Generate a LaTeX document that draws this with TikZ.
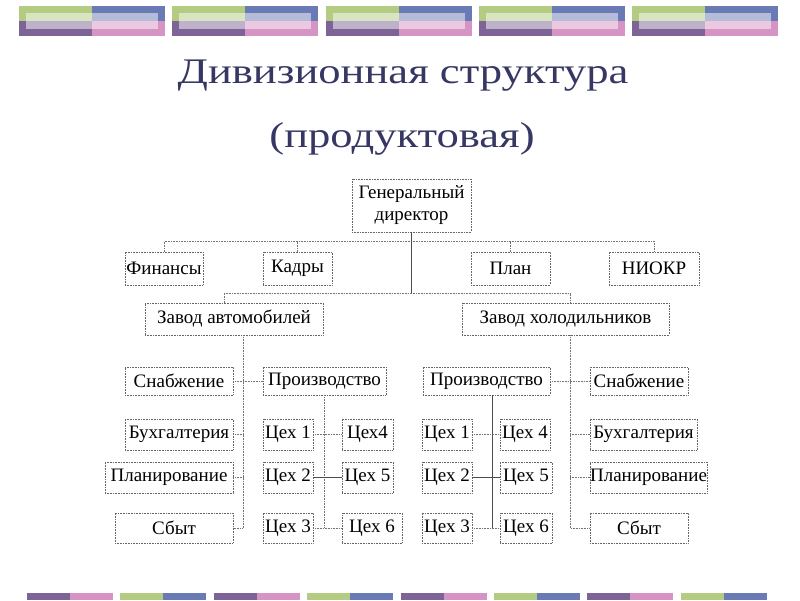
\documentclass[tikz,border=0pt]{standalone}
\usepackage{fontspec}
\setmainfont{Liberation Serif}
\usepackage{xcolor}
\usepackage{tikz}
\usetikzlibrary{positioning}

\definecolor{decgreen}{RGB}{180,204,130}
\definecolor{decblue}{RGB}{106,122,180}
\definecolor{decpurple}{RGB}{126,100,150}
\definecolor{decpink}{RGB}{214,148,196}
\definecolor{titlecol}{RGB}{55,55,100}

\tikzset{
  box/.style={draw=black!60, densely dotted, line width=0.6pt, inner sep=0pt,
    font=\fontsize{19}{22}\selectfont, minimum height=31pt},
  link/.style={draw=black!55, densely dotted, line width=0.6pt},
  solidlink/.style={draw=black!70, line width=0.6pt},
  heading/.style={anchor=base, text=titlecol, font=\fontsize{36}{40}\selectfont, xscale=1.24, transform shape},
}

\begin{document}
\begin{tikzpicture}[x=1pt, y=-1pt]
        \useasboundingbox[fill=white] (0,0) rectangle (800,600);

        % top and bottom decoration
        \foreach \i in {0,...,4} {
            \pgfmathsetmacro\bx{19+153.25*\i}
            \fill[decgreen] (\bx,6) rectangle ++(73,15);
            \fill[decblue] (\bx+73,6) rectangle ++(73,15);
            \fill[decpurple] (\bx,21) rectangle ++(73,15);
            \fill[decpink] (\bx+73,21) rectangle ++(73,15);
            \fill[white, opacity=0.5] (\bx+7,13) rectangle ++(132,16);
        }
        \foreach \i/\ca/\cb in {0/decpurple/decpink, 1/decgreen/decblue, 2/decpurple/decpink, 3/decgreen/decblue,
                                4/decpurple/decpink, 5/decgreen/decblue, 6/decpurple/decpink, 7/decgreen/decblue} {
            \pgfmathsetmacro\bx{27+93.4*\i}
            \fill[\ca] (\bx,593) rectangle ++(43,7);
            \fill[\cb] (\bx+43,593) rectangle ++(43,7);
        }

        % title
        \node (t1) [heading] at (403,83) {Дивизионная структура};
        \node (t2) [heading] at (402,147) {(продуктовая)};

        % top level
        \node (gd) [box, align=center, minimum width=119pt, minimum height=53pt] at (411.5,205.5) {Генеральный\\директор};
        \node (fin) [box, minimum width=78pt, minimum height=33pt] at (164,268.5) {Финансы};
        \node (kadr) [box, minimum width=69pt, minimum height=33pt] at (297.5,268.5) {Кадры};
        \node (plan) [box, minimum width=79pt, minimum height=33pt] at (510.5,268.5) {План};
        \node (niokr) [box, minimum width=90pt, minimum height=33pt] at (654,268.5) {НИОКР};

        \node (zavA) [box, minimum width=178pt, minimum height=32pt] at (234,319) {Завод автомобилей};
        \node (zavH) [box, minimum width=207pt, minimum height=32pt] at (565.5,319) {Завод холодильников};

        % car plant
        \node (snabL) [box, minimum width=108pt, minimum height=28pt] at (179,381) {Снабжение};
        \node (prodL) [box, minimum width=123pt, minimum height=28pt] at (324.5,381) {Производство};
        \node (buhL) [box, minimum width=108pt] at (179,434.5) {Бухгалтерия};
        \node (planL) [box, minimum width=128pt] at (169,477.5) {Планирование};
        \node (sbytL) [box, minimum width=118pt, minimum height=30pt] at (174,528) {Сбыт};
        \node (c1L) [box, minimum width=50pt] at (288,434.5) {Цех 1};
        \node (c2L) [box, minimum width=50pt] at (288,477.5) {Цех 2};
        \node (c3L) [box, minimum width=50pt, minimum height=30pt] at (288,528) {Цех 3};
        \node (c4L) [box, minimum width=51pt] at (367.5,434.5) {Цех4};
        \node (c5L) [box, minimum width=51pt] at (367.5,477.5) {Цех 5};
        \node (c6L) [box, minimum width=60pt, minimum height=30pt] at (372,528) {Цех 6};

        % fridge plant
        \node (prodR) [box, minimum width=127pt, minimum height=28pt] at (486.5,381) {Производство};
        \node (snabR) [box, minimum width=98pt, minimum height=28pt] at (639,381) {Снабжение};
        \node (buhR) [box, minimum width=107pt] at (643.5,434.5) {Бухгалтерия};
        \node (planR) [box, minimum width=117pt] at (648.5,477.5) {Планирование};
        \node (sbytR) [box, minimum width=98pt, minimum height=30pt] at (639,528) {Сбыт};
        \node (c1R) [box, minimum width=50pt] at (447,434.5) {Цех 1};
        \node (c2R) [box, minimum width=50pt] at (447,477.5) {Цех 2};
        \node (c3R) [box, minimum width=50pt, minimum height=30pt] at (447,528) {Цех 3};
        \node (c4R) [box, minimum width=50pt] at (525,434.5) {Цех 4};
        \node (c5R) [box, minimum width=52pt] at (526,477.5) {Цех 5};
        \node (c6R) [box, minimum width=52pt, minimum height=30pt] at (526,528) {Цех 6};

        % connectors
        \coordinate (topbar) at (0,241);
        \coordinate (midbar) at (0,293);
        \draw[link] (fin.north) -- (fin.north |- topbar) -- (niokr.north |- topbar) -- (niokr.north);
        \draw[link] (kadr.north) -- (kadr.north |- topbar);
        \draw[link] (plan.north) -- (plan.north |- topbar);
        \draw[solidlink] (gd.south) -- (gd.south |- midbar);
        \draw[link] ([xshift=-10pt]zavA.north) -- ([xshift=-10pt]zavA.north |- midbar)
            -- ([xshift=5pt]zavH.north |- midbar) -- ([xshift=5pt]zavH.north);

        \coordinate (vl) at ([xshift=9pt]zavA.south);
        \draw[link] (vl) -- (vl |- sbytL.east) -- (sbytL.east);
        \draw[link] (snabL.east) -- (prodL.west);
        \draw[link] (buhL.east) -- (vl |- buhL.east);
        \draw[link] (planL.east) -- (vl |- planL.east);
        \draw[link] (prodL.south) -- (prodL.south |- c3L.east);
        \draw[link] (c1L.east) -- (c4L.west);
        \draw[solidlink] (c2L.east) -- (c5L.west);
        \draw[link] (c3L.east) -- (c6L.west);

        \coordinate (vr) at ([xshift=4.5pt]zavH.south);
        \draw[link] (vr) -- (vr |- sbytR.west) -- (sbytR.west);
        \draw[link] (prodR.east) -- (snabR.west);
        \draw[link] (vr |- buhR.west) -- (buhR.west);
        \draw[link] (vr |- planR.west) -- (planR.west);
        \draw[solidlink] ([xshift=5.5pt]prodR.south) -- ([xshift=5.5pt]prodR.south |- c3R.east);
        \draw[link] (c1R.east) -- (c4R.west);
        \draw[solidlink] (c2R.east) -- (c5R.west);
        \draw[link] (c3R.east) -- (c6R.west);

    \end{tikzpicture}
\end{document}
